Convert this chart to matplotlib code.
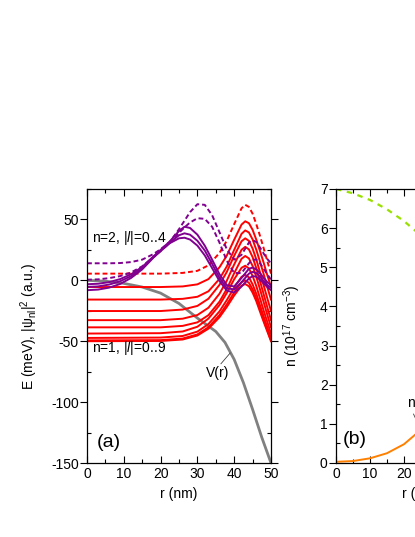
import matplotlib
matplotlib.use("Agg")
import matplotlib.pyplot as plt
from matplotlib.ticker import MultipleLocator

plt.rcParams['font.family'] = ['Liberation Sans', 'DejaVu Sans']
plt.rcParams['font.size'] = 10
plt.rcParams['axes.unicode_minus'] = False
plt.rcParams['mathtext.fontset'] = 'custom'
plt.rcParams['mathtext.rm'] = 'Liberation Sans'
plt.rcParams['mathtext.it'] = 'Liberation Sans:italic'

# ---- panel (a) ----
r_pot = [0, 5, 10, 15, 20, 25, 30, 35, 37.5, 40, 42.5, 45, 47.5, 50]
V_pot = [0, -0.7, -2.5, -5.5, -10.5, -19, -31, -42, -51, -65, -84, -106, -129, -150]

# n=1 states, |l| = 0..9 (level + |psi|^2)
r_n1 = [0, 20, 26, 30, 33, 36, 38, 40, 42, 43, 44, 45, 46, 47, 48, 49, 50]
n1_l0 = [-50, -49.8, -48.6, -45.3, -39.7, -30.3, -21.8, -12.4, -4.4, -3, -4.9, -10.1, -17.1, -25.6, -34, -42, -50]
n1_l1 = [-49.3, -49.1, -47.8, -44.4, -38.5, -28.6, -19.7, -9.9, -1.5, 0, -2, -7.4, -14.8, -23.7, -32.5, -40.9, -49.3]
n1_l2 = [-47.3, -47.0, -45.7, -42.1, -35.9, -25.5, -16.2, -5.9, 2.9, 4.5, 2.4, -3.3, -11.0, -20.4, -29.7, -38.5, -47.3]
n1_l3 = [-43.7, -43.4, -42.0, -38.1, -31.4, -20.3, -10.3, 0.9, 10.3, 12, 9.8, 3.6, -4.7, -14.7, -24.8, -34.2, -43.7]
n1_l4 = [-38.6, -38.6, -37.4, -34.5, -28.6, -17.5, -7.0, 5.9, 17.7, 20, 18, 11.8, 3.0, -7.2, -17.8, -28.3, -38.6]
n1_l5 = [-32.7, -32.7, -31.5, -28.5, -22.5, -11.0, -0.2, 13.1, 25.1, 27.5, 25.4, 19.1, 10.0, -0.5, -11.3, -22.2, -32.7]
n1_l6 = [-25.2, -25.2, -24.0, -21.0, -15.1, -3.7, 7.0, 20.2, 32.1, 34.5, 32.4, 26.1, 17.2, 6.7, -4.0, -14.8, -25.2]
n1_l7 = [-15.8, -15.8, -15.2, -13.5, -9.0, 1.2, 11.5, 25.1, 38.2, 41, 39.3, 33.6, 25.1, 15.4, 5.2, -5.6, -15.8]
n1_l8 = [-5.5, -5.5, -5.0, -3.3, 1.0, 10.7, 20.4, 33.4, 45.8, 48.5, 46.9, 41.5, 33.4, 24.2, 14.5, 4.2, -5.5]
n1_l9 = [5.5, 5.5, 6.1, 7.8, 12.3, 22.5, 32.6, 46.2, 59.2, 62, 60.3, 54.7, 46.2, 36.6, 26.4, 15.7, 5.5]

# n=2 states, |l| = 0..4
r_n2 = [0, 3, 6, 9, 12, 15, 18, 20, 22.5, 25, 26.5, 28, 30, 32, 34, 36, 38, 40, 42, 44, 45, 46, 47, 48, 49, 50]
n2_l0 = [-8.1, -7.6, -6, -3, 2, 9, 18.5, 24, 30.5, 34.5, 35, 33.5, 28.5, 20.5, 10, -0.5, -8.5, -10, -5, 1.5, 3.5, 3, 0.5, -2.5, -5.5, -8]
n2_l1 = [-5.4, -5, -3.5, -0.8, 3.5, 10, 19, 24.5, 31, 37, 38.6, 37.5, 32.5, 24.5, 13.5, 2, -6.5, -7.5, -1.5, 5.5, 7, 6, 3, -0.5, -4, -6]
n2_l2 = [-3.2, -2.8, -1.5, 1, 5, 11, 19.5, 25, 32, 40.5, 44, 43, 37.5, 28.5, 17, 5, -4, -5, 2, 9.5, 10.5, 9, 6, 2, -1.5, -4]
n2_l3 = [0.5, 0.8, 1.8, 3.5, 6.5, 11.5, 19, 24, 31, 39, 43.5, 47.5, 51, 50.5, 44, 31, 16, 6, 6, 14, 17, 17, 14, 9.5, 5, 0.5]
n2_l4 = [14, 14, 14, 14.2, 15, 17, 21.5, 25.5, 31.5, 42, 49, 56, 62.5, 62, 53.5, 39.5, 25.5, 17, 21, 31, 33, 31.5, 27, 22, 17.5, 14]

# ---- panel (b) ----
r_dens = [0, 5, 10, 15, 20, 25, 30]
n_dashed = [7.0, 6.89, 6.72, 6.48, 6.18, 5.81, 5.38]
n_e = [0.03, 0.05, 0.12, 0.25, 0.48, 0.85, 1.4]

red = '#ff0000'
purple = '#800090'
dash = (0, (2.5, 1.5))

fig = plt.figure(figsize=(4.15, 5.37), dpi=100)
ax1 = fig.add_axes([87/415, 1-463/537, 184/415, 274/537])
ax2 = fig.add_axes([336/415, 1-463/537, 170/415, 274/537])

ax1.plot(r_pot, V_pot, color='#808080', lw=2)
for ys in [n1_l0, n1_l1, n1_l2, n1_l3, n1_l4, n1_l5, n1_l6, n1_l7, n1_l8]:
    ax1.plot(r_n1, ys, color=red, lw=1.4)
ax1.plot(r_n1, n1_l9, color=red, lw=1.4, ls=dash)
for ys in [n2_l0, n2_l1, n2_l2]:
    ax1.plot(r_n2, ys, color=purple, lw=1.4)
for ys in [n2_l3, n2_l4]:
    ax1.plot(r_n2, ys, color=purple, lw=1.4, ls=dash)

ax1.text(1.3, 35, 'n=2, |$\\mathit{l}$|=0..4', ha='left', va='center')
ax1.text(1.3, -55.6, 'n=1, |$\\mathit{l}$|=0..9', ha='left', va='center')
ax1.text(35.6, -76, 'V(r)', ha='center', va='center')
ax1.plot([36.4, 38.9], [-68.5, -59.7], color='#404040', lw=0.6)
ax1.text(6, -133, '(a)', ha='center', va='center', fontsize=14)

ax1.set_xlim(0, 50)
ax1.set_ylim(-150, 75)
ax1.xaxis.set_major_locator(MultipleLocator(10))
ax1.xaxis.set_minor_locator(MultipleLocator(5))
ax1.yaxis.set_major_locator(MultipleLocator(50))
ax1.yaxis.set_minor_locator(MultipleLocator(25))
ax1.set_xlabel('r (nm)')
ax1.set_ylabel('E (meV), |ψ$_\\mathrm{nl}$|$^2$ (a.u.)')
ax1.yaxis.set_label_coords(-0.255, 0.5)

ax2.plot(r_dens, n_dashed, color='#99e000', lw=1.6, ls=(0, (2.5, 2.5)))
ax2.plot(r_dens, n_e, color='#ff8000', lw=1.4)
ax2.text(5.6, 0.59, '(b)', ha='center', va='center', fontsize=14)
ax2.text(20.9, 1.53, 'ne', ha='left', va='center')
ax2.plot([22.8, 23.6], [1.25, 1.1], color='#404040', lw=0.6)
ax2.set_xlim(0, 50)
ax2.set_ylim(0, 7)
ax2.xaxis.set_major_locator(MultipleLocator(10))
ax2.xaxis.set_minor_locator(MultipleLocator(5))
ax2.yaxis.set_major_locator(MultipleLocator(1))
ax2.yaxis.set_minor_locator(MultipleLocator(0.5))
ax2.set_xlabel('r (nm)')
ax2.set_ylabel('n (10$^{17}$ cm$^{-3}$)')
ax2.yaxis.set_label_coords(-0.194, 0.5)

for ax in (ax1, ax2):
    ax.tick_params(axis='x', which='both', direction='in', top=True, width=0.8, pad=3)
    ax.tick_params(axis='x', which='major', length=5)
    ax.tick_params(axis='x', which='minor', length=3)
    ax.tick_params(axis='y', which='major', direction='out', right=True, length=5, width=0.8, pad=1)
    ax.tick_params(axis='y', which='minor', direction='in', right=True, length=3, width=0.8)
    for s in ax.spines.values():
        s.set_linewidth(0.9)

fig.savefig('out.png', dpi=100)
